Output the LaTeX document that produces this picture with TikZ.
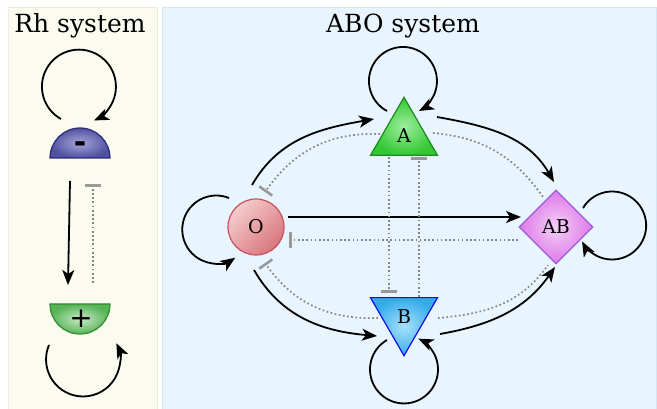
\documentclass[tikz,border=0pt]{standalone}
\usepackage{fontspec}
\setmainfont{DejaVu Serif}
\newfontfamily\symfont{DejaVu Sans}
\usetikzlibrary{arrows.meta,shapes.geometric,calc}
\definecolor{rhbg}{HTML}{FBFBF0}
\definecolor{rhbd}{HTML}{EDEDDC}
\definecolor{abobg}{HTML}{E9F5FE}
\definecolor{abobd}{HTML}{D3E6F2}
\definecolor{dotc}{HTML}{858585}
\definecolor{barc}{HTML}{999999}
\definecolor{oLight}{HTML}{F4CCCC}
\definecolor{oDark}{HTML}{D9767C}
\definecolor{oBorder}{HTML}{C8505E}
\definecolor{aLight}{HTML}{9CEE9C}
\definecolor{aDark}{HTML}{33C833}
\definecolor{aBorder}{HTML}{1F8A1F}
\definecolor{bLight}{HTML}{A8E0FA}
\definecolor{bDark}{HTML}{34ACEC}
\definecolor{bBorder}{HTML}{1010E8}
\definecolor{abLight}{HTML}{F4D0F6}
\definecolor{abDark}{HTML}{DE78E8}
\definecolor{abBorder}{HTML}{9B5FD9}
\definecolor{mLight}{HTML}{A6A6DC}
\definecolor{mDark}{HTML}{50509E}
\definecolor{mBorder}{HTML}{2B2B80}
\definecolor{pLight}{HTML}{C8EAC8}
\definecolor{pDark}{HTML}{55B355}
\definecolor{pBorder}{HTML}{2E8B2E}
\begin{document}
\begin{tikzpicture}[x=1pt,y=1pt,
  act/.style={line width=1.8pt, -{Stealth[length=15pt,width=12pt,inset=4pt]}},
  inh/.style={line width=1.7pt, draw=dotc, dash pattern=on 1.7pt off 2.5pt, -{Bar[width=16pt,line width=2.6pt,color=barc]}},
  dotline/.style={line width=1.7pt, draw=dotc, dash pattern=on 1.7pt off 2.5pt},
  title/.style={font=\fontsize{25}{30}\selectfont, anchor=base, inner sep=0},
  lbl/.style={font=\fontsize{19}{22}\selectfont, inner sep=0},
  panel/.style={line width=1pt}]
\useasboundingbox (0,0) rectangle (657,-409);
\fill[white] (0,0) rectangle (657,-409);
% panels
\filldraw[panel, fill=rhbg, draw=rhbd] (8,-8) rectangle (157,-415);
\filldraw[panel, fill=abobg, draw=abobd] (162,-8) rectangle (656,-415);
\node[title] (rhtitle) at (80,-33) {Rh system};
\node[title] (abotitle) at (403,-33) {ABO system};
% Rh half disks
\shade[inner color=mLight, outer color=mDark, draw=mBorder, line width=1.2pt] (50,-158) arc[start angle=180,end angle=0,radius=30] -- cycle;
\shade[inner color=pLight, outer color=pDark, draw=pBorder, line width=1.2pt] (50,-304) arc[start angle=180,end angle=360,radius=30] -- cycle;
\node[inner sep=0, font=\symfont\bfseries\fontsize{30}{30}\selectfont] (minus) at (80,-147) {-};
\node[inner sep=0, font=\symfont\fontsize{28}{28}\selectfont] (plus) at (81,-319) {+};
% ABO nodes
\node[circle, minimum size=56pt, inner sep=0, draw=oBorder, line width=1.2pt,
      top color=oLight, bottom color=oDark, shading angle=45, lbl] (O) at (256,-227) {O};
\node[regular polygon, regular polygon sides=3, minimum size=77.4pt, inner sep=0,
      draw=aBorder, line width=1.2pt, inner color=aLight, outer color=aDark, lbl] (A) at (404,-136) {A};
\node[regular polygon, regular polygon sides=3, shape border rotate=180, minimum size=77.4pt, inner sep=0,
      draw=bBorder, line width=1.2pt, inner color=bLight, outer color=bDark, lbl] (B) at (404,-317) {B};
\node[diamond, minimum width=74pt, minimum height=74pt, inner sep=0,
      draw=abBorder, line width=1.2pt, inner color=abLight, outer color=abDark, lbl] (AB) at (556,-227) {AB};
% Rh connectors
\draw[act] ([shift={(-19,28)}]minus.center) arc[start angle=241,end angle=-66,radius=37];
\draw[act] ([shift={(-32,-26)}]plus.center) arc[start angle=157,end angle=386,radius=37];
\draw[act] ([shift={(-10,-34)}]minus.center) -- ([shift={(-13,34)}]plus.center);
\draw[inh] ([shift={(12,36)}]plus.center) -- ([shift={(13,-37)}]minus.center);
% ABO self loops
\draw[act] ([shift={(-27,29)}]O.center) arc[start angle=68,end angle=304,radius=34];
\draw[act] ([shift={(-17,25)}]A.center) arc[start angle=242,end angle=-62,radius=34];
\draw[act] ([shift={(27,19)}]AB.center) arc[start angle=149,end angle=-152,radius=34];
\draw[act] ([shift={(-17,-23)}]B.center) arc[start angle=120,end angle=425,radius=34];
% ABO activations
\draw[act] ([shift={(-4,42)}]O.center) to[out=60,in=190] ([shift={(-30,17)}]A.center);
\draw[act] ([shift={(33,19)}]A.center) to[out=-10,in=120] ([shift={(-2,45)}]AB.center);
\draw[act] ([shift={(32,10)}]O.center) -- ([shift={(-35,10)}]AB.center);
\draw[act] ([shift={(-2,-43)}]O.center) to[out=-60,in=175] ([shift={(-27,-19)}]B.center);
\draw[act] ([shift={(36,-17)}]B.center) to[out=10,in=235] ([shift={(-1,-40)}]AB.center);
% ABO inhibitions and dotted links
\draw[inh] ([shift={(-38,-13)}]AB.center) -- ([shift={(33,-13)}]O.center);
\draw[inh] ([shift={(-24,2)}]A.center) to[out=178,in=55] ([shift={(9,35)}]O.center);
\draw[inh] ([shift={(-26,-1)}]B.center) to[out=182,in=305] ([shift={(9,-36)}]O.center);
\draw[dotline] ([shift={(29,3)}]A.center) to[out=-5,in=125] ([shift={(-13,30)}]AB.center);
\draw[dotline] ([shift={(34,-1)}]B.center) to[out=5,in=235] ([shift={(-8,-38)}]AB.center);
\draw[inh] ([shift={(-15,-21)}]A.center) -- ([shift={(-15,24)}]B.center);
\draw[inh] ([shift={(15,20)}]B.center) -- ([shift={(15,-21)}]A.center);
\end{tikzpicture}
\end{document}
